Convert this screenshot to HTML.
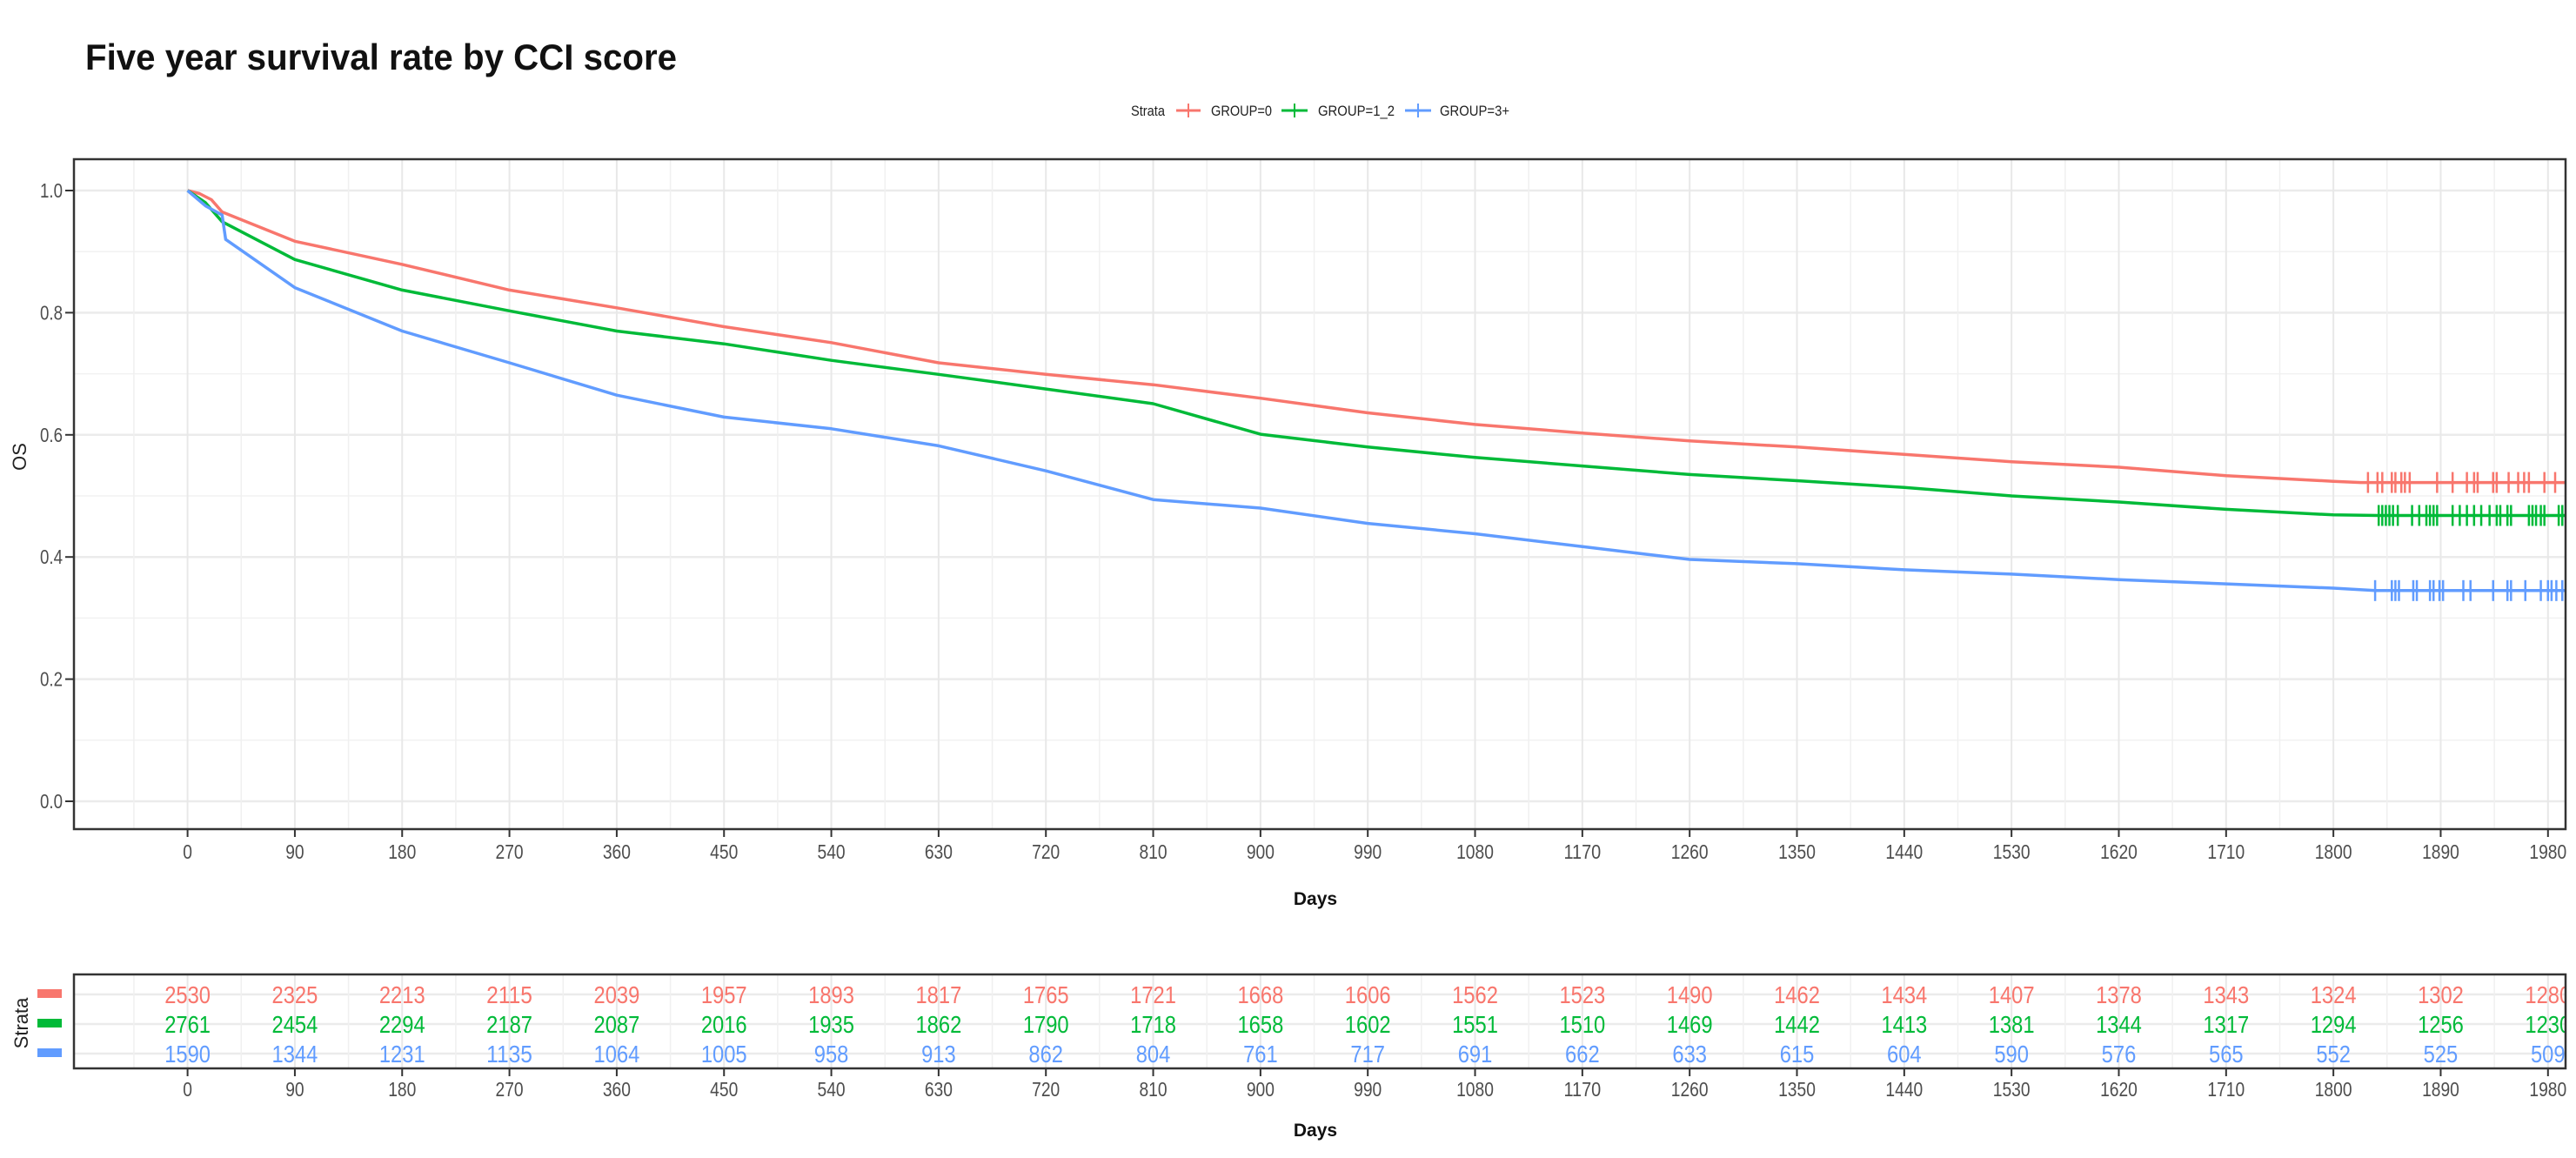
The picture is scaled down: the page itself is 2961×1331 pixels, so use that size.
<!DOCTYPE html>
<html><head><meta charset="utf-8"><style>
html,body{margin:0;padding:0;background:#fff;}
svg{display:block;}
.tk{font-family:"Liberation Sans",sans-serif;font-size:23px;fill:#4d4d4d;}
.rk{font-family:"Liberation Sans",sans-serif;font-size:28px;}
</style></head><body>
<svg id="chart" width="2961" height="1331" viewBox="0 0 2961 1331" xmlns="http://www.w3.org/2000/svg">
<text x="98" y="80" font-family="Liberation Sans, sans-serif" font-weight="bold" font-size="42" textLength="680" lengthAdjust="spacingAndGlyphs" fill="#111">Five year survival rate by CCI score</text>
<g id="legend" font-family="Liberation Sans, sans-serif" font-size="17" fill="#222">
<text x="1300" y="133" textLength="39" lengthAdjust="spacingAndGlyphs">Strata</text>
<g><line x1="1352" y1="127" x2="1380" y2="127" stroke="#F8766D" stroke-width="3"/><line x1="1366" y1="119" x2="1366" y2="135" stroke="#F8766D" stroke-width="2"/><text x="1392" y="133" textLength="70" lengthAdjust="spacingAndGlyphs">GROUP=0</text></g>
<g><line x1="1473" y1="127" x2="1503" y2="127" stroke="#00BA38" stroke-width="3"/><line x1="1488" y1="119" x2="1488" y2="135" stroke="#00BA38" stroke-width="2"/><text x="1515" y="133" textLength="88" lengthAdjust="spacingAndGlyphs">GROUP=1_2</text></g>
<g><line x1="1615" y1="127" x2="1645" y2="127" stroke="#619CFF" stroke-width="3"/><line x1="1630" y1="119" x2="1630" y2="135" stroke="#619CFF" stroke-width="2"/><text x="1655" y="133" textLength="80" lengthAdjust="spacingAndGlyphs">GROUP=3+</text></g>
</g>
<g id="main"></g>
<g id="risk"></g>
</svg>
<script>
const xTicks = [0,90,180,270,360,450,540,630,720,810,900,990,1080,1170,1260,1350,1440,1530,1620,1710,1800,1890,1980];
const yTicks = [0,0.2,0.4,0.6,0.8,1.0];
const yTickLabels = ["0.0","0.2","0.4","0.6","0.8","1.0"];
const groupNames = ["GROUP=0","GROUP=1_2","GROUP=3+"];
const groupColors = ["#F8766D","#00BA38","#619CFF"];
const timesG0 = [0,10,20,29,90,180,270,360,450,540,630,720,810,900,990,1080,1170,1260,1350,1440,1530,1620,1710,1800,1823,1995];
const survG0  = [1,0.995,0.985,0.965,0.917,0.879,0.837,0.808,0.777,0.751,0.718,0.699,0.682,0.66,0.636,0.617,0.603,0.590,0.580,0.568,0.556,0.547,0.533,0.524,0.522,0.522];
const timesG1 = [0,15,29,90,180,270,360,450,540,630,720,810,900,990,1080,1170,1260,1350,1440,1530,1620,1710,1800,1838,1995];
const survG1  = [1,0.98,0.949,0.887,0.837,0.803,0.770,0.749,0.722,0.699,0.675,0.651,0.601,0.58,0.563,0.549,0.535,0.525,0.514,0.50,0.49,0.478,0.469,0.468,0.468];
const timesG2 = [0,15,29,32,90,180,270,360,450,540,630,720,810,900,990,1080,1170,1260,1350,1440,1530,1620,1710,1800,1835,1995];
const survG2  = [1,0.975,0.96,0.92,0.841,0.77,0.718,0.665,0.629,0.61,0.582,0.541,0.494,0.48,0.455,0.438,0.417,0.396,0.389,0.379,0.372,0.363,0.356,0.349,0.345,0.345];
const censorG0 = [1829,1837,1841,1849,1852,1857,1860,1864,1887,1900,1912,1918,1921,1934,1937,1947,1955,1960,1964,1977,1986];
const censorG1 = [1838,1841,1844,1847,1850,1854,1866,1872,1878,1881,1884,1887,1900,1906,1912,1918,1924,1931,1937,1940,1946,1949,1964,1967,1970,1974,1977,1989,1992];
const censorG2 = [1835,1849,1852,1855,1867,1870,1881,1884,1889,1892,1909,1915,1934,1946,1949,1961,1974,1980,1983,1987,1992];
const riskG0 = [2530,2325,2213,2115,2039,1957,1893,1817,1765,1721,1668,1606,1562,1523,1490,1462,1434,1407,1378,1343,1324,1302,1280];
const riskG1 = [2761,2454,2294,2187,2087,2016,1935,1862,1790,1718,1658,1602,1551,1510,1469,1442,1413,1381,1344,1317,1294,1256,1230];
const riskG2 = [1590,1344,1231,1135,1064,1005,958,913,862,804,761,717,691,662,633,615,604,590,576,565,552,525,509];

const NS = "http://www.w3.org/2000/svg";
const PL = 85, PR = 2949, PT = 183, PB = 953;
const X0 = 215.6, XPD = 1.3703;
const xs = d => X0 + d * XPD;
const ys = v => 921 - v * 702;
function mk(parent, tag, attrs){ const e = document.createElementNS(NS, tag); for (const k in attrs) e.setAttribute(k, attrs[k]); parent.appendChild(e); return e; }

const main = document.getElementById('main');
const risk = document.getElementById('risk');
const clipDefs = mk(document.getElementById('chart'), 'defs', {});
const cp = mk(clipDefs, 'clipPath', {id:'pclip'});
mk(cp, 'rect', {x:PL, y:PT, width:PR-PL, height:PB-PT});

for (let v = 0.1; v < 1.05; v += 0.2) {
  const g = mk(main, 'line', {x1:PL, x2:PR, y1:ys(v), y2:ys(v), stroke:'#f2f2f2', 'stroke-width':1.5});
  
  
}
yTicks.forEach(v => {
  const g = mk(main, 'line', {x1:PL, x2:PR, y1:ys(v), y2:ys(v), stroke:'#ebebeb', 'stroke-width':2.5});
  
  
});
function vgrid(parent, top, bot) {
  for (let d = -45; d <= 2000; d += 90) {
    const g = mk(parent, 'line', {x1:xs(d), x2:xs(d), y1:top, y2:bot, stroke:'#f0f0f0', 'stroke-width':1.5});
    
    
  }
  xTicks.forEach(d => {
    const g = mk(parent, 'line', {x1:xs(d), x2:xs(d), y1:top, y2:bot, stroke:'#e8e8e8', 'stroke-width':2});
    
    
  });
}
vgrid(main, PT, PB);

const T = [timesG0, timesG1, timesG2], S = [survG0, survG1, survG2], C = [censorG0, censorG1, censorG2];
const cg = mk(main, 'g', {'clip-path':'url(#pclip)'});
for (let i = 0; i < 3; i++) {
  const pts = T[i].map((t, j) => xs(t).toFixed(1) + ',' + ys(S[i][j]).toFixed(1)).join(' ');
  const pl = mk(cg, 'polyline', {points:pts, fill:'none', stroke:groupColors[i], 'stroke-width':3.5, 'stroke-linejoin':'round'});
  
  
  const endV = S[i][S[i].length - 1];
  C[i].forEach(t => {
    const m = mk(cg, 'line', {x1:xs(t), x2:xs(t), y1:ys(endV) - 12, y2:ys(endV) + 12, stroke:groupColors[i], 'stroke-width':2.5});
    
    
  });
}
const border = mk(main, 'rect', {x:PL, y:PT, width:PR-PL, height:PB-PT, fill:'none', stroke:'#333', 'stroke-width':2.5});



yTicks.forEach((v, i) => {
  const t = mk(main, 'line', {x1:PL - 10, x2:PL, y1:ys(v), y2:ys(v), stroke:'#333', 'stroke-width':2});
  
  
  const lb = mk(main, 'text', {x:PL - 13, y:ys(v) + 8, 'text-anchor':'end', class:'tk', textLength:26, lengthAdjust:'spacingAndGlyphs'});
  lb.textContent = yTickLabels[i];
  
  
});
const yt = mk(main, 'text', {x:0, y:0, transform:'translate(30,525) rotate(-90)', 'text-anchor':'middle', 'font-family':'Liberation Sans, sans-serif', 'font-size':22, fill:'#222'});
yt.textContent = 'OS';



function xaxis(parent, bot, labY, titleY) {
  xTicks.forEach(d => {
    const t = mk(parent, 'line', {x1:xs(d), x2:xs(d), y1:bot, y2:bot + 9, stroke:'#333', 'stroke-width':2});
    
    
    const s = String(d);
    const lb = mk(parent, 'text', {x:xs(d), y:labY, 'text-anchor':'middle', class:'tk', textLength:(s.length * 10.7).toFixed(1), lengthAdjust:'spacingAndGlyphs'});
    lb.textContent = s;
    
    
  });
  const tt = mk(parent, 'text', {x:1512, y:titleY, 'text-anchor':'middle', 'font-family':'Liberation Sans, sans-serif', 'font-weight':'bold', 'font-size':21, fill:'#111'});
  tt.textContent = 'Days';
  
  
}
xaxis(main, PB, 987, 1040);

const RT = 1120, RB = 1228;
const rowY = [1143, 1177, 1211];
rowY.forEach(y => {
  const g = mk(risk, 'line', {x1:PL, x2:PR, y1:y, y2:y, stroke:'#ebebeb', 'stroke-width':2.5});
  
  
});
vgrid(risk, RT, RB);
const rcp = mk(clipDefs, 'clipPath', {id:'rclip'});
mk(rcp, 'rect', {x:PL, y:RT, width:PR-PL, height:RB-RT});
const rg = mk(risk, 'g', {'clip-path':'url(#rclip)'});
const R = [riskG0, riskG1, riskG2];
for (let i = 0; i < 3; i++) {
  R[i].forEach((n, j) => {
    const s = String(n);
    const t = mk(rg, 'text', {x:xs(xTicks[j]), y:rowY[i] + 10, 'text-anchor':'middle', class:'rk', fill:groupColors[i], textLength:(s.length * 13.2).toFixed(1), lengthAdjust:'spacingAndGlyphs'});
    t.textContent = s;
    
    
  });
  const sw = mk(risk, 'rect', {x:43, y:rowY[i] - 6, width:28, height:10, fill:groupColors[i]});
  
  
}
const rb = mk(risk, 'rect', {x:PL, y:RT, width:PR-PL, height:RB-RT, fill:'none', stroke:'#333', 'stroke-width':2.5});


const st = mk(risk, 'text', {x:0, y:0, transform:'translate(32,1176) rotate(-90)', 'text-anchor':'middle', 'font-family':'Liberation Sans, sans-serif', 'font-size':22, fill:'#222'});
st.textContent = 'Strata';


xaxis(risk, RB, 1260, 1306);
</script>
</body></html>
